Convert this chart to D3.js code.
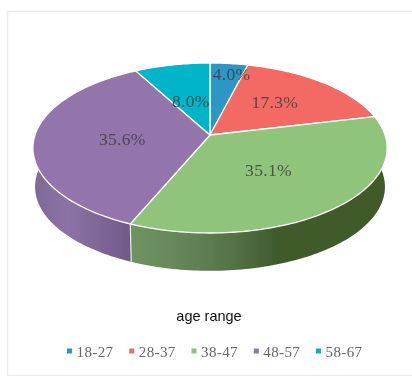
<!DOCTYPE html>
<html><head><meta charset="utf-8">
<script src="https://cdn.jsdelivr.net/npm/d3@7"></script>
<style>html,body{margin:0;padding:0;background:#fff}svg{display:block}</style>
</head><body><svg id="c" width="412" height="376"></svg>
<script>
const categories = ["18-27","28-37","38-47","48-57","58-67"];
const values = [4.0,17.3,35.1,35.6,8.0];
const colors = ["#2e96c4","#f26b64","#90c47a","#9475ab","#00b5c9"];
const title = "age range";

const W=412,H=376, cx=210, cy=135, R=175, S=83, K=0.153, depth=39, botScale=0.988;
const labelRadius=[0.80,0.55,0.52,0.5,0.5];
const labelNudge=[[6,-2],[0,-3],[-4,0],[0,2],[1,3]];

const svg=d3.select("#c");
svg.append("rect").attr("width",W).attr("height",H).attr("fill","#fff");
const defs=svg.append("defs");
const blur=defs.append("filter").attr("id","soft").attr("x","-5%").attr("y","-5%").attr("width","110%").attr("height","110%");
blur.append("feGaussianBlur").attr("stdDeviation",0.45);

function grad(id,stops){
  const g=defs.append("linearGradient").attr("id",id).attr("gradientUnits","userSpaceOnUse")
    .attr("x1",33).attr("x2",388).attr("y1",0).attr("y2",0);
  stops.forEach(([o,c])=>g.append("stop").attr("offset",o).attr("stop-color",c));
}
grad("wall3",[[0,"#7f6a96"],[0.1,"#8c72a5"],[0.2,"#7c6594"],[0.275,"#6e5a85"],[1,"#6e5a85"]]);
grad("wall2",[[0,"#6f9460"],[0.27,"#6f9460"],[0.4,"#66885a"],[0.55,"#567548"],[0.69,"#3f5a2c"],[1,"#3f5a2c"]]);

const root=svg.append("g").attr("filter","url(#soft)");
// chart frame
root.append("path").attr("d",`M${W} 375.5 H7.5 V11.5 H${W}`).attr("fill","none").attr("stroke","#ececec").attr("stroke-width",1.5);

// perspective projection of the disc
function proj(a,r=1,dy=0,sc=1){
  const u=Math.sin(a)*r, v=Math.cos(a)*r, w=1+K*v;
  return [cx+R*sc*u/w, cy+dy-S*sc*v/w];
}
const line=d3.line();
const arcs=d3.pie().sort(null).value(d=>d)(values);
function samples(a0,a1){
  const n=Math.max(2,Math.ceil((a1-a0)/0.02));
  return d3.range(n+1).map(i=>a0+(a1-a0)*i/n);
}

// walls (green & purple face the viewer)
arcs.forEach((d,i)=>{
  if(i!==2&&i!==3) return;
  const as=samples(d.startAngle,d.endAngle);
  const top=as.map(a=>proj(a));
  const bot=as.map(a=>proj(a,1,depth,botScale)).reverse();
  root.append("path").attr("d",line(top.concat(bot))+"Z").attr("fill",`url(#wall${i})`);
});
// white seam between green and purple walls
const seam=arcs[3].startAngle;
root.append("path").attr("d",line([proj(seam),proj(seam,1,depth,botScale)]))
  .attr("stroke","#e8ece4").attr("stroke-width",1.2).attr("fill","none");

// top faces
arcs.forEach((d,i)=>{
  const pts=[[cx,cy]].concat(samples(d.startAngle,d.endAngle).map(a=>proj(a)));
  root.append("path").attr("d",line(pts)+"Z").attr("fill",colors[i])
    .attr("stroke","#fff").attr("stroke-width",1.3).attr("stroke-linejoin","round");
});

// data labels
arcs.forEach((d,i)=>{
  const p=proj((d.startAngle+d.endAngle)/2,labelRadius[i]);
  root.append("text").attr("x",p[0]+labelNudge[i][0]).attr("y",p[1]+labelNudge[i][1]).attr("dy","0.35em")
    .attr("text-anchor","middle").attr("font-family","'Liberation Serif',serif").attr("font-size",17.5)
    .attr("letter-spacing",0.3).attr("fill","#404040").attr("fill-opacity",0.85).text(values[i].toFixed(1)+"%");
});

// title
root.append("text").attr("x",209).attr("y",321).attr("text-anchor","middle")
  .attr("font-family","'Liberation Sans',Arial,sans-serif").attr("font-size",14.5).attr("fill","#111").text(title);

// legend
const lx=d3.scalePoint().domain(categories).range([69.5,318.5]);
const leg=root.selectAll("g.l").data(categories).join("g").attr("class","l")
  .attr("transform",c=>`translate(${lx(c)},351)`);
leg.append("rect").attr("x",-2.5).attr("y",-2.5).attr("width",5).attr("height",5).attr("fill",(c,i)=>colors[i]);
leg.append("text").attr("x",7).attr("y",6).attr("font-family","'Liberation Serif',serif").attr("font-size",15)
  .attr("letter-spacing",0.4).attr("fill","#666").text(c=>c);
</script></body></html>
